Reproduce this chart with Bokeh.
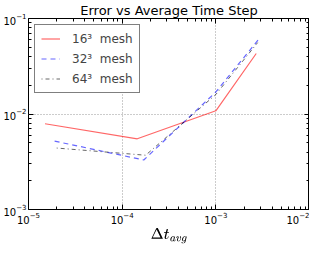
from bokeh.plotting import figure
from bokeh.models import LogAxis, Legend, LegendItem, Range1d, FixedTicker
from bokeh.embed import file_html
from bokeh.resources import INLINE

# data
dt_16 = [1.5e-5, 1.45e-4, 1.0e-3, 2.7e-3]
err_16 = [7.9e-3, 5.5e-3, 1.08e-2, 4.3e-2]
dt_32 = [1.9e-5, 1.7e-4, 1.0e-3, 3.0e-3]
err_32 = [5.2e-3, 3.3e-3, 1.7e-2, 6.4e-2]
dt_64 = [2.0e-5, 1.78e-4, 1.0e-3, 2.8e-3]
err_64 = [4.4e-3, 3.7e-3, 1.6e-2, 5.6e-2]
labels = ["16\u00b3  mesh", "32\u00b3  mesh", "64\u00b3  mesh"]
title = "Error vs Average Time Step"
xlabel = r"$$\Delta t_{avg}$$"

FONT = "DejaVu Sans"

p = figure(width=309, height=246, x_axis_type="log", y_axis_type="log",
           x_range=Range1d(1e-5, 1e-2), y_range=Range1d(1e-3, 1e-1),
           output_backend="svg", toolbar_location=None,
           min_border_left=0, min_border_right=0, min_border_top=0, min_border_bottom=0)
p.title.text = title
p.title.align = "center"
p.title.text_font = FONT
p.title.text_font_style = "normal"
p.title.text_font_size = "13px"
p.title.text_color = "black"
p.title.standoff = 1
p.outline_line_color = "black"
p.outline_line_width = 1
p.background_fill_color = "white"
p.border_fill_color = "white"

xminor = [k * 10.0 ** e for e in range(-5, -2) for k in range(2, 10)]
yminor = [k * 10.0 ** e for e in range(-3, -1) for k in range(2, 10)]

for ax in (p.xaxis[0], p.yaxis[0]):
    ax.major_tick_in = 5
    ax.major_tick_out = 0
    ax.minor_tick_in = 3
    ax.minor_tick_out = 0
    ax.axis_line_color = None
    ax.major_label_text_font = FONT
    ax.major_label_text_font_size = "10px"
    ax.major_label_text_color = "black"
    ax.major_label_standoff = 2
p.xaxis[0].ticker = FixedTicker(ticks=[1e-5, 1e-4, 1e-3, 1e-2], minor_ticks=xminor)
p.yaxis[0].ticker = FixedTicker(ticks=[1e-3, 1e-2, 1e-1], minor_ticks=yminor)
p.xaxis[0].axis_label = xlabel
p.xaxis[0].axis_label_text_font_size = "13px"
p.xaxis[0].axis_label_text_color = "black"
p.xaxis[0].axis_label_standoff = 1

for loc, tick, minor in (("right", [1e-3, 1e-2, 1e-1], yminor),
                         ("above", [1e-5, 1e-4, 1e-3, 1e-2], xminor)):
    a = LogAxis(ticker=FixedTicker(ticks=tick, minor_ticks=minor))
    a.major_tick_in = 5
    a.major_tick_out = 0
    a.minor_tick_in = 3
    a.minor_tick_out = 0
    a.axis_line_color = None
    a.major_label_text_font_size = "1px"
    a.major_label_text_alpha = 0
    a.major_label_standoff = 0
    p.add_layout(a, loc)

p.xgrid.grid_line_color = "#999999"
p.ygrid.grid_line_color = "#999999"
p.xgrid.grid_line_dash = "1 2"
p.ygrid.grid_line_dash = "1 2"
p.xgrid.ticker = FixedTicker(ticks=[1e-4, 1e-3])
p.ygrid.ticker = FixedTicker(ticks=[1e-2])

r1 = p.line(dt_16, err_16, line_color="red", line_alpha=0.6, line_width=1.2)
r2 = p.line(dt_32, err_32, line_color="blue", line_alpha=0.6, line_width=1.2, line_dash="5 4")
r3 = p.line(dt_64, err_64, line_color="black", line_alpha=0.6, line_width=1.0, line_dash="1 3 4 3")

legend = Legend(items=[LegendItem(label=labels[0], renderers=[r1]),
                       LegendItem(label=labels[1], renderers=[r2]),
                       LegendItem(label=labels[2], renderers=[r3])],
                location="top_left")
legend.label_text_font = FONT
legend.label_text_font_size = "12px"
legend.label_height = 15
legend.glyph_height = 15
legend.border_line_color = "black"
legend.border_line_width = 1
legend.background_fill_alpha = 1
legend.glyph_width = 19
legend.spacing = 5
legend.padding = 6
legend.margin = 6
legend.label_standoff = 12
p.add_layout(legend)

open("out.html", "w").write(file_html(p, INLINE))
